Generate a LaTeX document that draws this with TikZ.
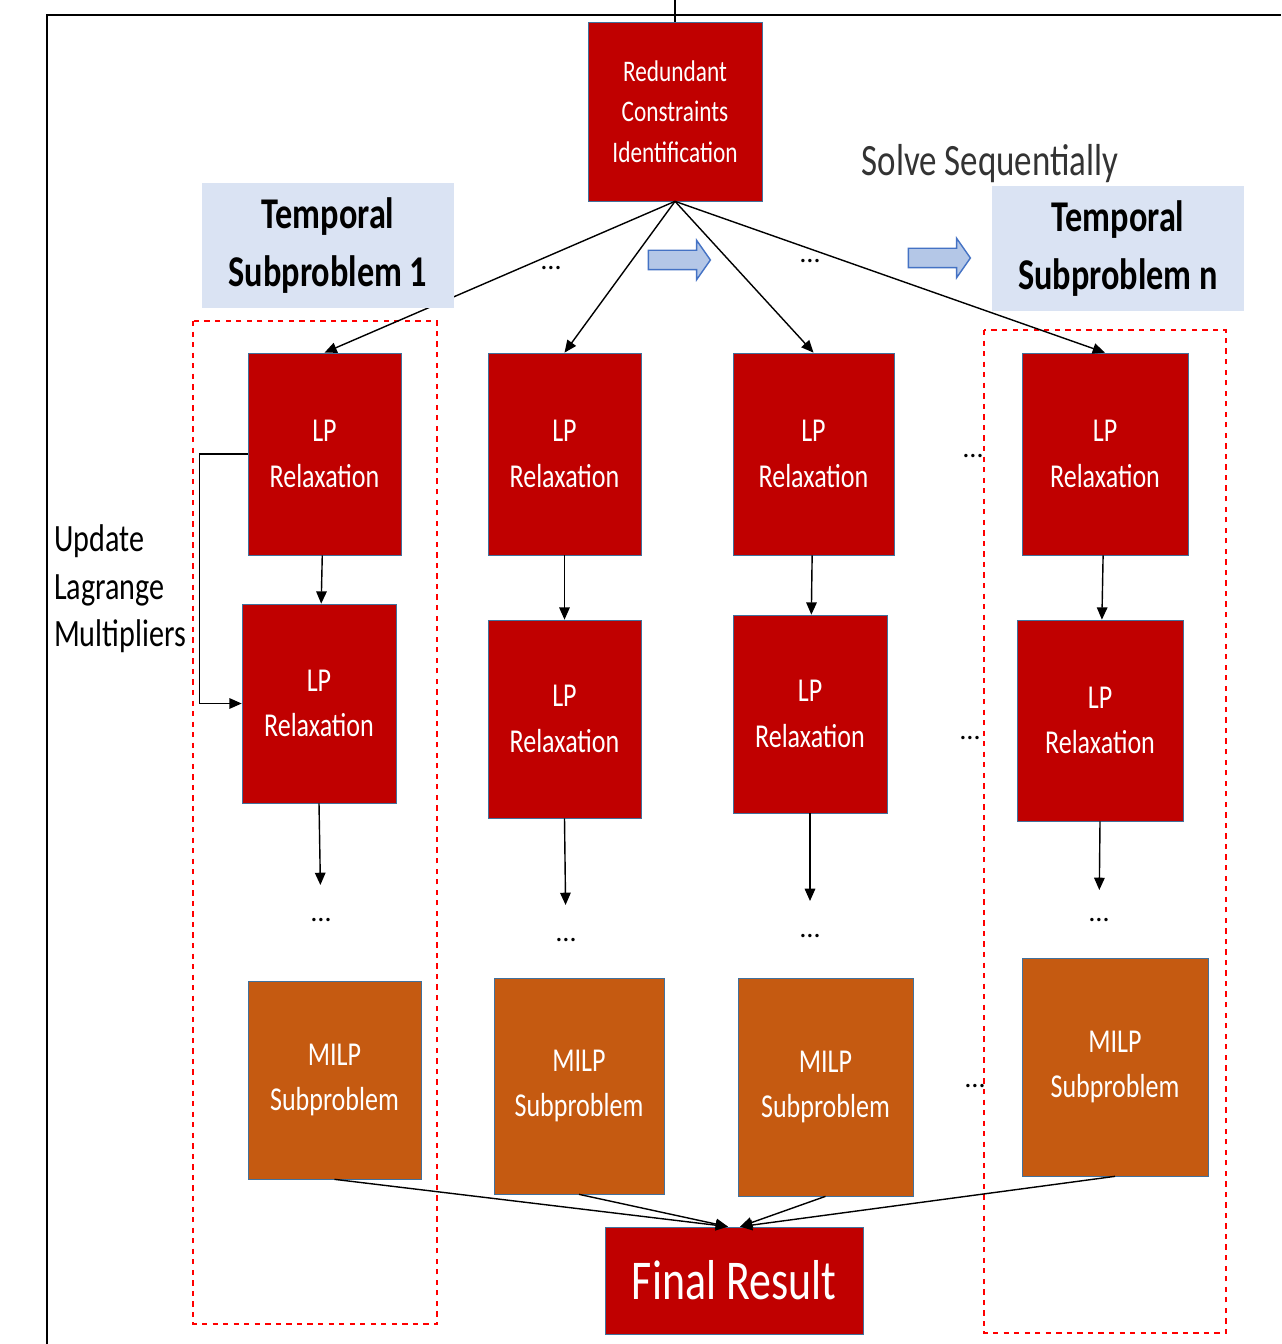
\documentclass[tikz,border=0pt]{standalone}
\usepackage{fontspec}
\setmainfont{Carlito}
\newfontfamily\narrowfont[FakeStretch=0.78]{Carlito}
\usepackage{xcolor}
\usepackage{tikz}
\usetikzlibrary{arrows.meta,shapes.arrows}
\definecolor{lpRed}{HTML}{C00000}
\definecolor{milpOrange}{HTML}{C55A11}
\definecolor{boxEdge}{HTML}{41719C}
\definecolor{tempBlue}{HTML}{DAE3F3}
\definecolor{arrowFill}{HTML}{B4C7E7}
\definecolor{arrowEdge}{HTML}{4472C4}
\tikzset{
lpBox/.style = {rectangle, draw=boxEdge, fill=lpRed, text=white,
                minimum width=#1, align=center, inner sep=0pt,
                font=\narrowfont\fontsize{19}{26}\selectfont},
lpBox/.default = 3.06cm, % width of the red box
milpBox/.style = {lpBox=#1, fill=milpOrange},
milpBox/.default = 3.4cm,
tempBox/.style = {rectangle, fill=tempBlue, minimum width=5.04cm,
                  minimum height=2.5cm, align=center,
                  font=\narrowfont\bfseries\fontsize{25}{33}\selectfont}
}
\tikzset{
dotsLbl/.style = {inner sep=0pt, font=\fontsize{16}{16}\selectfont},
seqArrow/.style = {single arrow, draw=arrowEdge, fill=arrowFill, line width=0.8pt,
                   minimum height=1.24cm, inner xsep=0pt, inner ysep=0.18cm,
                   single arrow head extend=0.2cm, single arrow tip angle=110},
group/.style = {draw=red, dashed, line width=0.7pt},
link/.style = {->, line width=0.8pt}
}

\begin{document}
\begin{tikzpicture}[x=0.02cm, y=-0.02cm, >={Triangle[length=7pt, width=6pt]}]
    \useasboundingbox (0,0) rectangle (1281,1344);
    \draw[line width=1.3pt] (47,1344) -- (47,15) -- (1281,15);

    % dashed groups
    \draw[group] (193,321) rectangle (437,1324);
    \draw[group] (984,330) rectangle (1226,1333);

    \node[lpBox=3.48cm, minimum height=3.58cm, font=\narrowfont\fontsize{17}{23}\selectfont]
        (redund) at (675,111.5) {Redundant\\Constraints\\Identification};
    \coordinate (redundIn) at (675,0);
    \draw[line width=0.8pt] (redundIn) -- (redund);

    \node[font=\narrowfont\fontsize{25.5}{25.5}\selectfont, text=black!80] (solveSeq) at (990,164) {Solve Sequentially};

    % first row of LP relaxations
    \node[lpBox, minimum height=4.04cm] (lpA1) at (324.5,454) {LP\\Relaxation};
    \node[lpBox, minimum height=4.04cm] (lpA2) at (564.5,454) {LP\\Relaxation};
    \node[lpBox=3.22cm, minimum height=4.04cm] (lpA3) at (813.5,454) {LP\\Relaxation};
    \node[lpBox=3.32cm, minimum height=4.04cm] (lpA4) at (1105,454) {LP\\Relaxation};

    % second row of LP relaxations
    \node[lpBox=3.08cm, minimum height=3.98cm] (lpB1) at (319,703.5) {LP\\Relaxation};
    \node[lpBox, minimum height=3.96cm] (lpB2) at (564.5,719) {LP\\Relaxation};
    \node[lpBox=3.08cm, minimum height=3.96cm] (lpB3) at (810,714) {LP\\Relaxation};
    \node[lpBox=3.32cm, minimum height=4.02cm] (lpB4) at (1100,720.5) {LP\\Relaxation};

    \node[dotsLbl] (dots1) at (321,920) {\ldots};
    \node[dotsLbl] (dots2) at (566,940) {\ldots};
    \node[dotsLbl] (dots3) at (810,936) {\ldots};
    \node[dotsLbl] (dots4) at (1099,920) {\ldots};

    \node[milpBox=3.46cm, minimum height=3.96cm] (milp1) at (334.5,1080) {MILP\\Subproblem};
    \node[milpBox, minimum height=4.32cm] (milp2) at (579,1086) {MILP\\Subproblem};
    \node[milpBox=3.5cm, minimum height=4.36cm] (milp3) at (825.5,1087) {MILP\\Subproblem};
    \node[milpBox=3.72cm, minimum height=4.36cm] (milp4) at (1115,1067) {MILP\\Subproblem};

    \node[lpBox=5.16cm, minimum height=2.14cm, font=\narrowfont\fontsize{32}{32}\selectfont]
        (final) at (734,1280.5) {Final Result};

    % dots between the columns
    \node[dotsLbl] (dotsTop1) at (551,268) {\ldots};
    \node[dotsLbl] (dotsTop2) at (810,261) {\ldots};
    \node[dotsLbl] (dotsRow1) at (973,456) {\ldots};
    \node[dotsLbl] (dotsRow2) at (970,738) {\ldots};
    \node[dotsLbl] (dotsRow3) at (975,1086) {\ldots};

    \draw[link] (redund.south) -- (lpA1.north);
    \draw[link] (redund.south) -- (lpA2.north);
    \draw[link] (redund.south) -- (lpA3.north);
    \draw[link] (redund.south) -- (lpA4.north);

    \draw[link] (lpA1) -- (lpB1);
    \draw[link] (lpA2) -- (lpB2);
    \draw[link] (lpA3) -- (lpB3);
    \draw[link] (lpA4) -- (lpB4);

    \draw[link, shorten >=0.7cm] (lpB1.south) -- (dots1.center);
    \draw[link, shorten >=0.7cm] (lpB2.south) -- (dots2.center);
    \draw[link, shorten >=0.7cm] (lpB3.south) -- (dots3.center);
    \draw[link, shorten >=0.6cm] (lpB4.south) -- (dots4.center);

    \draw[link] (lpA1.west) -- ++(-48,0) |- (lpB1.west);
    \node[anchor=west, align=left, font=\narrowfont\fontsize{22}{27}\selectfont]
        (updLagr) at (48,589) {Update\\Lagrange\\Multipliers};

    \draw[link] (milp1.south) -- ([xshift=-0.12cm]final.north);
    \draw[link] (milp2.south) -- ([xshift=-0.12cm]final.north);
    \draw[link] (milp3.south) -- ([xshift=0.12cm]final.north);
    \draw[link] (milp4.south) -- ([xshift=0.12cm]final.north);

    % temporal subproblem labels, on top of the arrows
    \node[tempBox] (temp1) at (328,245.5) {Temporal\\Subproblem 1};
    \node[tempBox] (tempN) at (1118,248.5) {Temporal\\Subproblem n};

    \node[seqArrow] (seqArrow1) at (676,260) {};
    \node[seqArrow] (seqArrow2) at (936,258) {};
\end{tikzpicture}
\end{document}
